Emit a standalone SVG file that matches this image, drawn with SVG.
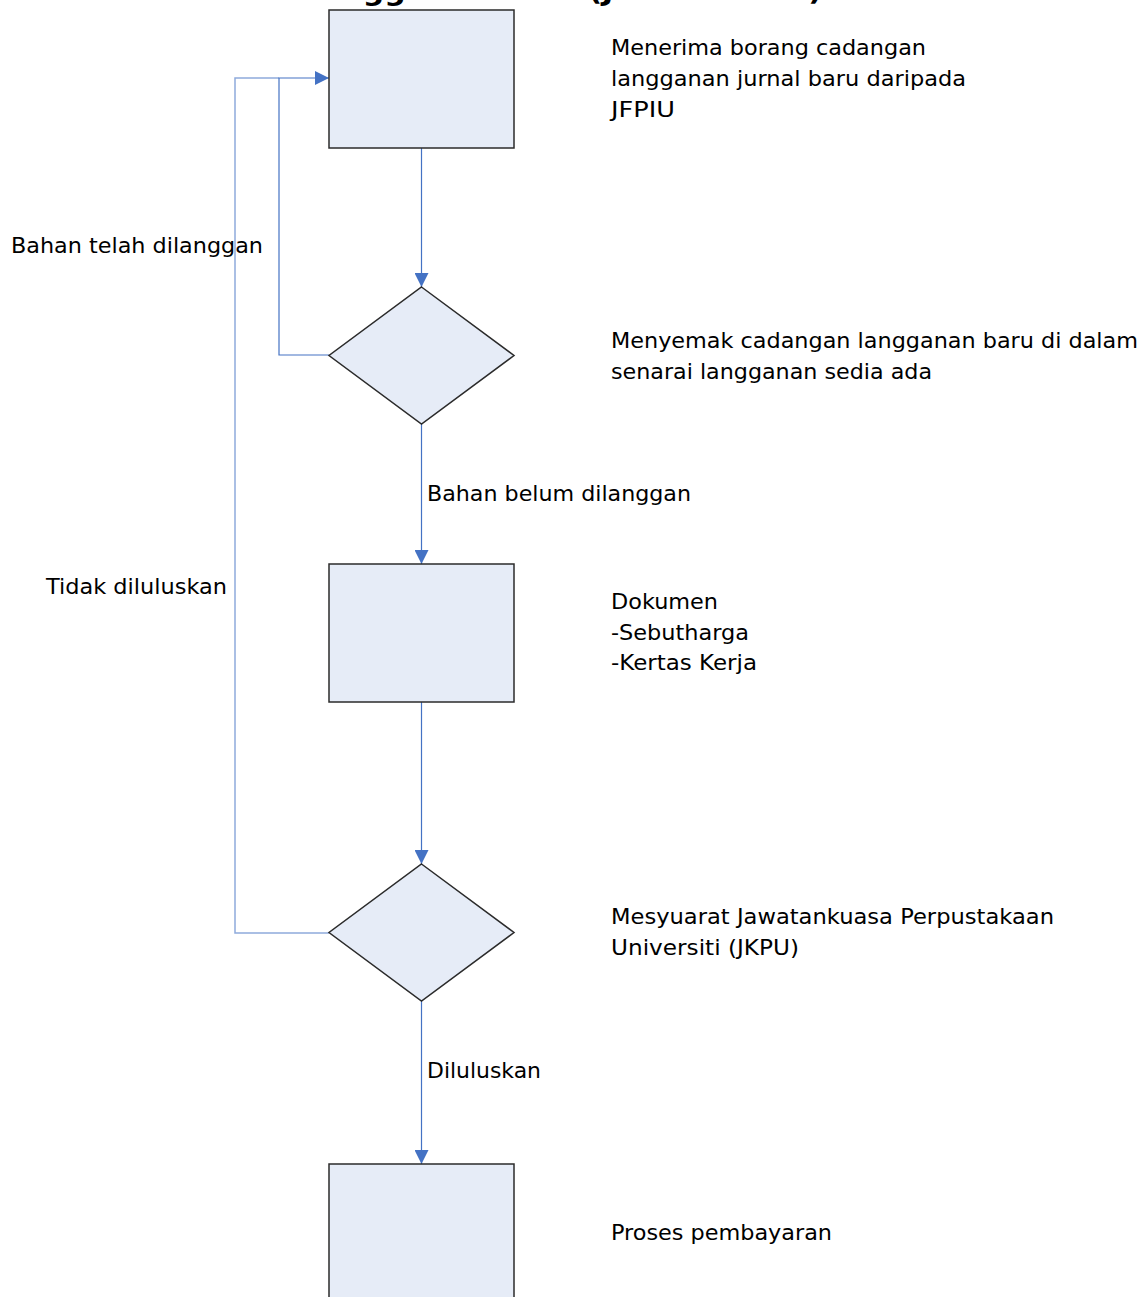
<svg xmlns="http://www.w3.org/2000/svg" width="1146" height="1297" viewBox="0 0 1146 1297">
<style>
.shape{fill:#E6ECF7;stroke:#2b2b2b;stroke-width:1.5}
.lbl{font-family:"DejaVu Sans","Liberation Sans",sans-serif;font-size:22px;fill:#000}
.title{font-family:"DejaVu Sans","Liberation Sans",sans-serif;font-size:26px;font-weight:bold;fill:#000}
.conn{fill:none;stroke:#4472C4;stroke-width:1.2}
.conn2{fill:none;stroke:#8FAADC;stroke-width:1.5}
</style>
<defs>
<marker id="arr" markerUnits="userSpaceOnUse" markerWidth="14" markerHeight="14" viewBox="0 0 14 14" refX="14" refY="7" orient="auto">
<path d="M0,0 L14,7 L0,14 z" fill="#4472C4"/>
</marker>
</defs>
<text class="title" x="8" y="0" textLength="814" lengthAdjust="spacingAndGlyphs">Carta Alir Proses Langganan Baru (Jurnal Cetak)</text>
<g id="connectors">
<path class="conn2" d="M329,933 H235 V78 H279"/>
<path class="conn" d="M329,355 H279 V78 H329" marker-end="url(#arr)"/>
<path class="conn" d="M421.5,148 V287" marker-end="url(#arr)"/>
<path class="conn" d="M421.5,424 V564" marker-end="url(#arr)"/>
<path class="conn" d="M421.5,702 V864" marker-end="url(#arr)"/>
<path class="conn" d="M421.5,1001 V1164" marker-end="url(#arr)"/>
<text class="lbl" x="11" y="253" textLength="252" lengthAdjust="spacingAndGlyphs">Bahan telah dilanggan</text>
<text class="lbl" x="427" y="501" textLength="264" lengthAdjust="spacingAndGlyphs">Bahan belum dilanggan</text>
<text class="lbl" x="46" y="594" textLength="181" lengthAdjust="spacingAndGlyphs">Tidak diluluskan</text>
<text class="lbl" x="427" y="1078" textLength="114" lengthAdjust="spacingAndGlyphs">Diluluskan</text>
</g>
<g id="node1">
<rect class="shape" x="329" y="10" width="185" height="138"/>
<text class="lbl" x="611" y="55" textLength="315" lengthAdjust="spacingAndGlyphs">Menerima borang cadangan</text>
<text class="lbl" x="611" y="86" textLength="355" lengthAdjust="spacingAndGlyphs">langganan jurnal baru daripada</text>
<text class="lbl" x="611" y="117" textLength="64" lengthAdjust="spacingAndGlyphs">JFPIU</text>
</g>
<g id="node2">
<polygon class="shape" points="421.5,287 514,355.5 421.5,424 329,355.5"/>
<text class="lbl" x="611" y="348" textLength="527" lengthAdjust="spacingAndGlyphs">Menyemak cadangan langganan baru di dalam</text>
<text class="lbl" x="611" y="379" textLength="321" lengthAdjust="spacingAndGlyphs">senarai langganan sedia ada</text>
</g>
<g id="node3">
<rect class="shape" x="329" y="564" width="185" height="138"/>
<text class="lbl" x="611" y="609" textLength="107" lengthAdjust="spacingAndGlyphs">Dokumen</text>
<text class="lbl" x="611" y="640" textLength="138" lengthAdjust="spacingAndGlyphs">-Sebutharga</text>
<text class="lbl" x="611" y="670" textLength="146" lengthAdjust="spacingAndGlyphs">-Kertas Kerja</text>
</g>
<g id="node4">
<polygon class="shape" points="421.5,864 514,932.5 421.5,1001 329,932.5"/>
<text class="lbl" x="611" y="924" textLength="443" lengthAdjust="spacingAndGlyphs">Mesyuarat Jawatankuasa Perpustakaan</text>
<text class="lbl" x="611" y="955" textLength="188" lengthAdjust="spacingAndGlyphs">Universiti (JKPU)</text>
</g>
<g id="node5">
<rect class="shape" x="329" y="1164" width="185" height="150"/>
<text class="lbl" x="611" y="1240" textLength="221" lengthAdjust="spacingAndGlyphs">Proses pembayaran</text>
</g>
</svg>
